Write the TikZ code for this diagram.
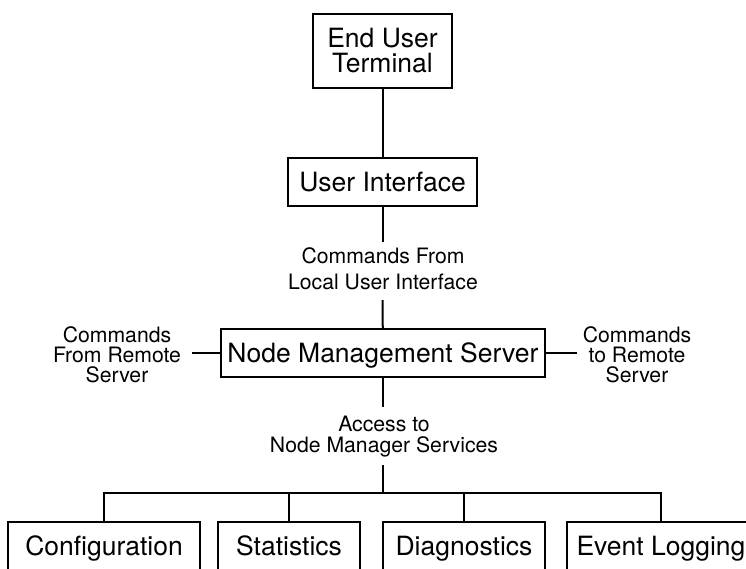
\documentclass[tikz,border=0pt]{standalone}
\usepackage{fontspec}
\setmainfont{TeX Gyre Heros}
\tikzset{
  unitbox/.style={draw, line width=2pt, inner sep=0pt, minimum height=48pt,
    font=\fontsize{26.5pt}{25pt}\selectfont, text height=19pt, text depth=0pt},
  tallbox/.style={draw, line width=2pt, inner sep=0pt, align=center,
    font=\fontsize{26.5pt}{25pt}\selectfont},
  note/.style={inner sep=0pt, align=center},
  wire/.style={line width=2pt}
}
\begin{document}
\begin{tikzpicture}[x=1pt, y=-1pt]
\useasboundingbox (0,0) rectangle (746,568);

% main chain
\node[tallbox, minimum width=139pt, minimum height=74pt] (eut) at (382.5,51) {End User\\Terminal};
\node[unitbox, minimum width=189pt] (ui) at (382.5,182) {User Interface};
\node[unitbox, minimum width=324pt] (nms) at (383,353) {Node Management Server};

% service boxes
\node[unitbox, minimum width=192pt] (cfg) at (104,546) {Configuration};
\node[unitbox, minimum width=142pt] (sta) at (289,546) {Statistics};
\node[unitbox, minimum width=162pt] (dia) at (464,546) {Diagnostics};
\node[unitbox, minimum width=188pt] (evt) at (661,546) {Event Logging};

% flow labels
\node[note, font=\fontsize{21.2pt}{26pt}\selectfont] (local) at (383,269) {Commands From\\Local User Interface};
\node[note, font=\fontsize{21.2pt}{20pt}\selectfont] (fromrem) at (117,354.5) {Commands\\From Remote\\Server};
\node[note, font=\fontsize{21.2pt}{20pt}\selectfont] (torem) at (637,354.5) {Commands\\to Remote\\Server};
\node[note, font=\fontsize{21.2pt}{21pt}\selectfont] (access) at (384,436.7) {Access to\\Node Manager Services};

% connector ends beside the labels
\coordinate (localtop) at (382.5,242);
\coordinate (localbot) at (382.5,300);
\coordinate (leftend) at (192,353);
\coordinate (rightend) at (577,353);
\coordinate (accesstop) at (383,407);
\coordinate (accessbot) at (383,465);
\coordinate (bus) at (383,494);

\draw[wire] (eut) -- (ui);
\draw[wire] (ui) -- (localtop);
\draw[wire] (localbot) -- (nms);
\draw[wire] (nms.west) -- (leftend);
\draw[wire] (nms.east) -- (rightend);
\draw[wire] (nms) -- (accesstop);
\draw[wire] (accessbot) -- (bus);

% service bus
\draw[wire] (cfg.north) -- ++(0,-28) -| (evt.north);
\draw[wire] (sta.north) -- ++(0,-28);
\draw[wire] (dia.north) -- ++(0,-28);
\end{tikzpicture}
\end{document}
